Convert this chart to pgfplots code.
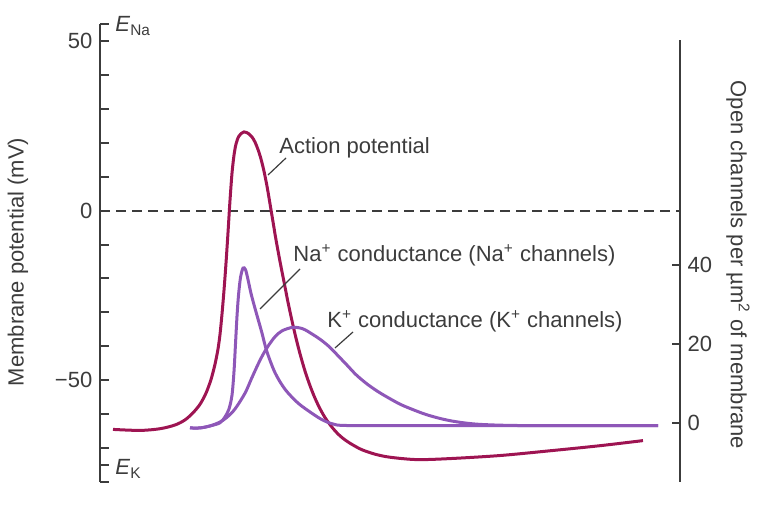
\documentclass[border=0pt]{standalone}
\usepackage{pgfplots}
\pgfplotsset{compat=1.18}
\usepackage{fontspec}
\setmainfont{Liberation Sans}
\definecolor{apcol}{RGB}{158,20,82}
\definecolor{gcol}{RGB}{142,87,184}
\definecolor{txt}{RGB}{60,60,60}
\begin{document}
\fontsize{11}{13}\selectfont
\begin{tikzpicture}
\useasboundingbox (0,0) rectangle (383.5pt,254pt);
% left axis: membrane potential
\begin{axis}[
  at={(50pt,13pt)}, anchor=south west, scale only axis,
  width=290pt, height=229pt,
  xmin=100, xmax=680, ymin=-80, ymax=55,
  axis x line=none, axis y line*=left,
  axis line style={-, txt, line width=1pt},
  tick style={txt, line width=1pt},
  tick align=inside, major tick length=4.5pt,
  ytick={-80,-75,-70,-60,-50,-40,-30,-20,-10,0,10,20,30,40,50,55},
  yticklabels={,,,,{−50},,,,,0,,,,,50,},
  yticklabel style={text=txt, font=\fontsize{11}{13}\selectfont},
  clip=false,
]
\addplot[txt, line width=1pt, dash pattern=on 5pt off 3pt] coordinates {(100,0) (680,0)};
\addplot[apcol, line width=1.5pt, smooth, tension=0.5] coordinates {
(113,-64.5) (140,-64.8) (160,-64.3) (175,-63.2) (185,-61.7) (193,-59.6) (200,-57.1)
(206,-53.8) (211,-49.8) (215,-45.3) (218,-40.8) (220,-36.5) (222,-30.5) (224,-23.5)
(226,-15.5) (228,-6.5) (230,3) (232,11) (234,16.3) (236,19.6) (239,22) (244,23.2)
(249,22.6) (252,21.7) (255,20.2) (258,18) (261,15.2) (264,11.6) (267,7.2) (270,2)
(273,-3.3) (276,-8.6) (280,-15) (284,-21) (288,-27) (292,-32.5) (296,-37.6) (300,-42.2)
(305,-47.3) (310,-51.6) (315,-55.3) (320,-58.4) (325,-61) (330,-63.1) (335,-64.9)
(340,-66.4) (346,-67.8) (353,-69.1) (362,-70.5) (375,-71.8) (390,-72.7) (417,-73.4)
(450,-73.1) (500,-72.2) (550,-70.8) (600,-69.3) (643,-67.8)};
\end{axis}
% right axis: open channels
\begin{axis}[
  at={(50pt,13pt)}, anchor=south west, scale only axis,
  width=290pt, height=221pt,
  xmin=100, xmax=680, ymin=-15, ymax=97,
  axis x line=none, axis y line*=right,
  axis line style={-, txt, line width=1pt},
  tick style={txt, line width=1pt},
  tick align=inside, major tick length=4pt,
  ytick={0,20,40}, yticklabels={0,20,40},
  yticklabel style={text=txt, font=\fontsize{11}{13}\selectfont},
  clip=false,
]
\addplot[gcol, line width=1.5pt, smooth, tension=0.5] coordinates {
(190,-1.3) (200,-1.3) (210,-0.8) (220,0) (225,1.5) (229,3.5) (232,7) (234,13) (235.5,20)
(237,27) (238.5,32.3) (240.5,36.8) (243,39.2) (245.5,38.8) (248,36.3) (251,32.8) (255,29)
(261.7,23) (266.7,18.2) (275,12.7) (285,8.5) (298,5) (312,2.4) (322,0.8) (333,-0.3)
(350,-0.7) (450,-0.7) (658,-0.7)};
\addplot[gcol, line width=1.5pt, smooth, tension=0.5] coordinates {
(190,-1.3) (200,-1.3) (210,-0.8) (220,0.2) (227,1.4) (235,3.5) (245,7.5) (251.5,11.2)
(258,14.8) (263,17.3) (268,19.4) (275,21.8) (282,23.3) (293,24.2) (303,23.8) (313.3,22.3)
(322,20.8) (330,19.1) (338,17) (346.7,14.7) (356,12.2) (366.7,9.9) (378,7.9) (390,6.1)
(401,4.6) (413.3,3.3) (426,2.1) (440,1.1) (453,0.4) (466.7,-0.1) (480,-0.4) (500,-0.6)
(530,-0.7) (658,-0.7)};
\end{axis}
\begin{scope}[yshift=254pt, x=0.5pt, y=-0.5pt]
\draw[txt, line width=0.6pt] (268,175) -- (286,158);
\draw[txt, line width=0.6pt] (260,309) -- (300,269);
\draw[txt, line width=0.6pt] (335,348) -- (353,332);
\node[anchor=west, text=txt, inner sep=0pt] at (279,148) {Action potential};
\node[anchor=west, text=txt, inner sep=0pt] at (293,255) {Na\textsuperscript{+} conductance (Na\textsuperscript{+} channels)};
\node[anchor=west, text=txt, inner sep=0pt] at (327,321) {K\textsuperscript{+} conductance (K\textsuperscript{+} channels)};
\node[anchor=base west, text=txt, inner sep=0pt] at (115,32) {\textit{E}\textsubscript{Na}};
\node[anchor=base west, text=txt, inner sep=0pt] at (115,475) {\textit{E}\textsubscript{K}};
\node[rotate=90, text=txt, inner sep=0pt] at (18,262) {Membrane potential (mV)};
\node[rotate=-90, text=txt, inner sep=0pt] at (738,265) {Open channels per µm\textsuperscript{2} of membrane};
\end{scope}
\end{tikzpicture}
\end{document}
